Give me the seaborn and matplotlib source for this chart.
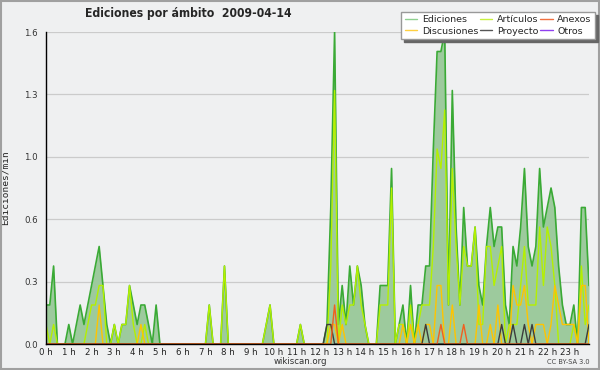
import numpy as np
import pandas as pd
import seaborn as sns
import matplotlib.pyplot as plt
from matplotlib.lines import Line2D
from matplotlib.patches import Rectangle

# ediciones/min por intervalo de 10 minutos (144 intervalos del día)
ediciones = [0.2, 0.2, 0.4, 0, 0, 0, 0.1, 0, 0.1, 0.2, 0.1, 0.2,
             0.3, 0.4, 0.5, 0.3, 0.1, 0, 0.1, 0, 0.1, 0.1, 0.3, 0.2,
             0.1, 0.2, 0.2, 0.1, 0, 0.2, 0, 0, 0, 0, 0, 0,
             0, 0, 0, 0, 0, 0, 0, 0.2, 0, 0, 0, 0.4,
             0, 0, 0, 0, 0, 0, 0, 0, 0, 0, 0.1, 0.2,
             0, 0, 0, 0, 0, 0, 0, 0.1, 0, 0, 0, 0,
             0, 0, 0.1, 0.7, 1.6, 0.1, 0.3, 0.1, 0.4, 0.2, 0.4, 0.3,
             0.1, 0, 0, 0, 0.3, 0.3, 0.3, 0.9, 0, 0.1, 0.2, 0,
             0.3, 0, 0.2, 0.2, 0.4, 0.4, 1.0, 1.5, 1.5, 1.6, 0.2, 1.3,
             0.6, 0.2, 0.7, 0.4, 0.4, 0.6, 0.3, 0.2, 0.5, 0.7, 0.5, 0.6,
             0.6, 0.2, 0.1, 0.5, 0.4, 0.6, 0.9, 0.5, 0.4, 0.5, 0.9, 0.6,
             0.7, 0.8, 0.7, 0.4, 0.2, 0.1, 0.1, 0.2, 0, 0.7, 0.7, 0.3]

articulos = [0.1, 0, 0.1, 0, 0, 0, 0, 0, 0, 0, 0, 0.1,
             0.2, 0.2, 0.3, 0.3, 0, 0, 0.1, 0, 0.1, 0.1, 0.3, 0.1,
             0, 0, 0.1, 0, 0, 0, 0, 0, 0, 0, 0, 0,
             0, 0, 0, 0, 0, 0, 0, 0.2, 0, 0, 0, 0.4,
             0, 0, 0, 0, 0, 0, 0, 0, 0, 0, 0.1, 0.2,
             0, 0, 0, 0, 0, 0, 0, 0.1, 0, 0, 0, 0,
             0, 0, 0, 0.4, 1.3, 0, 0.2, 0.1, 0.2, 0.2, 0.4, 0.2,
             0.1, 0, 0, 0, 0.2, 0.2, 0.2, 0.8, 0, 0.1, 0.1, 0,
             0.2, 0, 0.1, 0.2, 0.2, 0.2, 0.5, 1.0, 0.9, 1.2, 0.2, 0.9,
             0.5, 0.2, 0.5, 0.4, 0.4, 0.6, 0.1, 0.1, 0.5, 0.5, 0.3, 0.4,
             0.5, 0, 0.1, 0.1, 0.1, 0.3, 0.5, 0.2, 0.2, 0.2, 0.6, 0.3,
             0.6, 0.5, 0.3, 0, 0, 0, 0, 0.1, 0, 0.4, 0.1, 0.2]

discusiones = [0, 0, 0, 0, 0, 0, 0, 0, 0, 0, 0, 0,
               0, 0, 0.2, 0, 0, 0, 0, 0, 0, 0, 0, 0,
               0, 0.1, 0, 0, 0, 0, 0, 0, 0, 0, 0, 0,
               0, 0, 0, 0, 0, 0, 0, 0, 0, 0, 0, 0,
               0, 0, 0, 0, 0, 0, 0, 0, 0, 0, 0, 0,
               0, 0, 0, 0, 0, 0, 0, 0, 0, 0, 0, 0,
               0, 0, 0, 0.1, 0.1, 0, 0.1, 0, 0, 0, 0, 0,
               0, 0, 0, 0, 0, 0, 0, 0, 0, 0, 0.1, 0,
               0.1, 0, 0.1, 0, 0.1, 0.1, 0, 0.3, 0.3, 0, 0, 0.2,
               0, 0, 0, 0, 0, 0, 0.2, 0, 0, 0.1, 0, 0.2,
               0, 0, 0, 0.3, 0.2, 0.2, 0.3, 0.1, 0, 0.1, 0.1, 0.1,
               0, 0.1, 0.3, 0.2, 0.1, 0.1, 0.1, 0.1, 0, 0.3, 0.3, 0]

proyecto = [0, 0, 0, 0, 0, 0, 0, 0, 0, 0, 0, 0,
            0, 0, 0, 0, 0, 0, 0, 0, 0, 0, 0, 0,
            0, 0, 0, 0, 0, 0, 0, 0, 0, 0, 0, 0,
            0, 0, 0, 0, 0, 0, 0, 0, 0, 0, 0, 0,
            0, 0, 0, 0, 0, 0, 0, 0, 0, 0, 0, 0,
            0, 0, 0, 0, 0, 0, 0, 0, 0, 0, 0, 0,
            0, 0, 0.1, 0.1, 0, 0, 0, 0, 0, 0, 0, 0,
            0, 0, 0, 0, 0, 0, 0, 0, 0, 0, 0, 0,
            0, 0, 0, 0, 0.1, 0, 0, 0, 0, 0, 0, 0,
            0, 0, 0, 0, 0, 0, 0, 0, 0, 0, 0, 0,
            0.1, 0, 0, 0.1, 0, 0, 0.1, 0, 0.1, 0, 0, 0,
            0, 0, 0, 0, 0, 0, 0, 0, 0, 0, 0, 0.1]

anexos = [0, 0, 0, 0, 0, 0, 0, 0, 0, 0, 0, 0,
          0, 0, 0, 0, 0, 0, 0, 0, 0, 0, 0, 0,
          0, 0, 0, 0, 0, 0, 0, 0, 0, 0, 0, 0,
          0, 0, 0, 0, 0, 0, 0, 0, 0, 0, 0, 0,
          0, 0, 0, 0, 0, 0, 0, 0, 0, 0, 0, 0,
          0, 0, 0, 0, 0, 0, 0, 0, 0, 0, 0, 0,
          0, 0, 0, 0, 0.2, 0, 0, 0, 0, 0, 0, 0,
          0, 0, 0, 0, 0, 0, 0, 0, 0, 0, 0, 0,
          0, 0, 0, 0, 0, 0, 0, 0, 0.1, 0, 0, 0,
          0, 0, 0.1, 0, 0, 0, 0, 0, 0, 0, 0, 0,
          0, 0, 0, 0, 0, 0, 0, 0, 0, 0, 0, 0,
          0, 0, 0, 0, 0, 0, 0, 0, 0, 0, 0, 0]

horas = [f"{h} h" for h in range(24)]
yticks = [0, 0.32, 0.64, 0.96, 1.28, 1.6]
ylabels = ["0.0", "0.3", "0.6", "1.0", "1.3", "1.6"]

df = pd.DataFrame({"hora": np.arange(144) / 6, "ediciones": ediciones,
                   "articulos": articulos, "discusiones": discusiones,
                   "proyecto": proyecto, "anexos": anexos})

sns.set_style("white")
plt.rcParams["font.family"] = ["DejaVu Sans"]
bg = "#eff0f1"

fig = plt.figure(figsize=(6, 3.7), dpi=100, facecolor=bg)
ax = fig.add_axes([46 / 600, 26 / 370, 543 / 600, 312 / 370])
ax.set_facecolor(bg)

ax.fill_between(df.hora, df.ediciones, color="#9dca9d", lw=0, zorder=1)
sns.lineplot(data=df, x="hora", y="ediciones", color="#3aaa35", lw=1.2, ax=ax, zorder=2)
sns.lineplot(data=df, x="hora", y="articulos", color="#b4f000", lw=1.0, ax=ax, zorder=3)
sns.lineplot(data=df, x="hora", y="discusiones", color="#ffc400", lw=1.0, ax=ax, zorder=3)
sns.lineplot(data=df, x="hora", y="proyecto", color="#3c3c3c", lw=1.0, ax=ax, zorder=3)
sns.lineplot(data=df, x="hora", y="anexos", color="#f06020", lw=1.0, ax=ax, zorder=3)

ax.set_xlim(0, 143 / 6)
ax.set_ylim(0, 1.6)
ax.set_xticks(range(24))
ax.set_xticklabels(horas, fontsize=6.2, color="#222")
ax.set_xticks(np.arange(144) / 6, minor=True)
ax.set_yticks(yticks)
ax.set_yticklabels(ylabels, fontsize=6.2, color="#333")
ax.set_yticks(np.arange(0, 1.61, 0.08), minor=True)
ax.tick_params(axis="x", which="both", direction="out", length=3, width=0.8, pad=0)
ax.tick_params(axis="y", which="major", direction="out", length=5, width=0.8, pad=1)
ax.tick_params(axis="y", which="minor", direction="out", length=2.5, width=0.8)
ax.grid(axis="y", which="major", color="#cbcbcb", lw=0.9)
ax.set_axisbelow(True)
for s in ["top", "right"]:
    ax.spines[s].set_visible(False)
for s in ["left", "bottom"]:
    ax.spines[s].set_color("black")
    ax.spines[s].set_linewidth(1.0)
    ax.spines[s].set_zorder(5)
ax.set_xlabel("")
ax.set_ylabel("Ediciones/min", family="DejaVu Sans Mono", fontsize=6.8)
ax.yaxis.set_label_coords((10 - 46) / 543, 0.5)

fig.text(188 / 600, 1 - 14 / 370, "Ediciones por ámbito  2009-04-14", ha="center",
         va="center", fontsize=8.7, fontweight="bold", fontstretch="condensed")
fig.text(300 / 600, 1 - 362 / 370, "wikiscan.org", ha="center", va="center",
         fontsize=6.2, color="#333")
fig.text(590 / 600, 1 - 362 / 370, "CC BY-SA 3.0", ha="right", va="center",
         fontsize=4.8, color="#444")

handles = [Line2D([], [], color="#8fd08f", lw=1), Line2D([], [], color="#ffd040", lw=1),
           Line2D([], [], color="#c8f040", lw=1), Line2D([], [], color="#555555", lw=1),
           Line2D([], [], color="#f07040", lw=1), Line2D([], [], color="#9040f0", lw=1)]
labels = ["Ediciones", "Discusiones", "Artículos", "Proyecto", "Anexos", "Otros"]
fig.legend(handles, labels, ncol=3, loc="upper right", bbox_to_anchor=(595 / 600, 1 - 12 / 370),
           fontsize=6.8, frameon=True, fancybox=False, framealpha=1, facecolor="white",
           edgecolor="#999999", shadow={"color": "#666666", "alpha": 1},
           handlelength=1.3, handletextpad=0.5, columnspacing=0.2,
           labelspacing=0.25, borderpad=0.35, borderaxespad=0)

fig.patches.append(Rectangle((0.002, 0.003), 0.996, 0.994, transform=fig.transFigure,
                             fill=False, edgecolor="#a0a0a0", lw=1.5))

fig.savefig("out.png", dpi=100, facecolor=bg)
